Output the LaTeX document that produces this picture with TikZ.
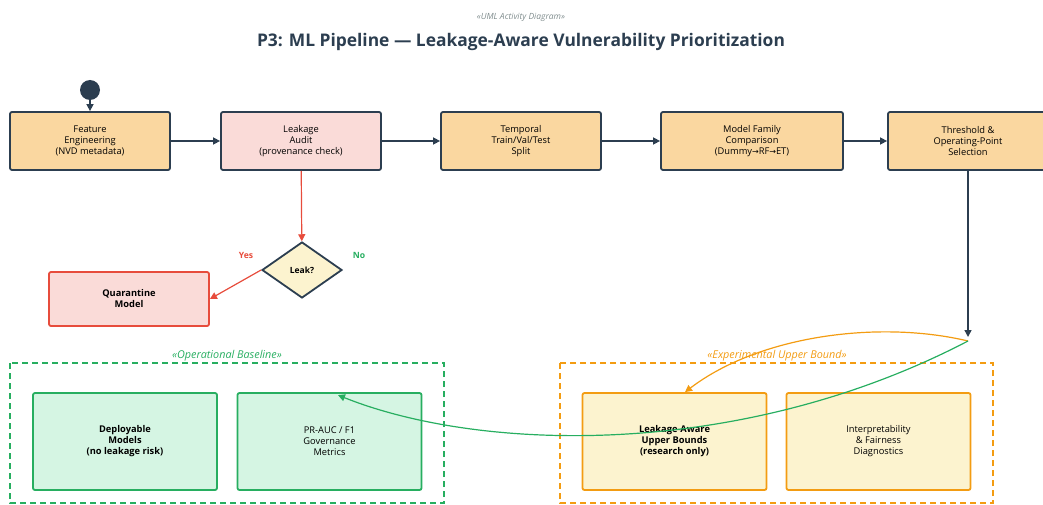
\documentclass[tikz,border=0pt]{standalone}
\usepackage{fontspec}
\setmainfont{Open Sans}
\newfontfamily\symfont{DejaVu Sans}
\usetikzlibrary{arrows.meta,shapes.geometric}

\definecolor{ink}{HTML}{2C3E50}
\definecolor{taskfill}{HTML}{FAD7A0}
\definecolor{warnfill}{HTML}{FADBD8}
\definecolor{warnline}{HTML}{E74C3C}
\definecolor{okline}{HTML}{27AE60}
\definecolor{okfill}{HTML}{D5F5E3}
\definecolor{expline}{HTML}{F39C12}
\definecolor{expfill}{HTML}{FCF3CF}
\definecolor{subgray}{HTML}{7F8C8D}

\newcommand{\rarr}{{\symfont\fontsize{8}{11}\selectfont →}}

\tikzset{
  tip/.style={-{Triangle[length=7pt,width=7pt]}},
  act/.style={draw=ink, fill=taskfill, line width=1.8pt, rounded corners=2pt,
    align=center, font=\fontsize{9.3}{11}\selectfont, inner sep=0pt,
    minimum width=160pt, minimum height=58pt},
  leafbox/.style={line width=1.8pt, rounded corners=2pt, align=center,
    font=\fontsize{9.3}{11}\selectfont, inner sep=0pt,
    minimum width=184pt, minimum height=97pt},
  okbox/.style={leafbox, draw=okline, fill=okfill},
  expbox/.style={leafbox, draw=expline, fill=expfill},
  flow/.style={tip, draw=ink, line width=1.5pt},
  groupframe/.style={line width=1.3pt, dash pattern=on 6pt off 4pt},
  grouplabel/.style={font=\itshape\fontsize{10.8}{12}\selectfont, inner sep=0pt},
}

\begin{document}
\begin{tikzpicture}[x=1pt, y=-1pt]
\useasboundingbox (0,0) rectangle (1043,505);
\clip (0,0) rectangle (1043,505);

% heading
\node[font=\itshape\fontsize{8.5}{10}\selectfont, text=subgray] (stereo) at (521,17) {«UML Activity Diagram»};
\node[font=\bfseries\fontsize{17.4}{20}\selectfont, text=ink] (title) at (521,42)
  {P3: ML Pipeline — Leakage-Aware Vulnerability Prioritization};

% main pipeline
\node[circle, fill=ink, minimum size=20pt, inner sep=0pt] (start) at (90,90) {};
\node[act] (fe) at (90,141) {Feature\\Engineering\\(NVD metadata)};
\node[act, fill=warnfill] (audit) at (301,141) {Leakage\\Audit\\(provenance check)};
\node[act] (split) at (521,141) {Temporal\\Train/Val/Test\\Split};
\node[act, minimum width=182pt] (family) at (752,141) {Model Family\\Comparison\\(Dummy\rarr RF\rarr ET)};
\node[act] (thresh) at (968,141) {Threshold \&\\Operating-Point\\Selection};

\draw[flow] (start) -- (fe);
\draw[flow] (fe) -- (audit);
\draw[flow] (audit) -- (split);
\draw[flow] (split) -- (family);
\draw[flow] (family) -- (thresh);

% leakage decision
\node[diamond, draw=ink, fill=expfill, line width=1.8pt, inner sep=0pt,
      minimum width=80pt, minimum height=56pt, aspect=1.43,
      font=\bfseries\fontsize{8.5}{10}\selectfont] (leak) at (302,270) {Leak?};
\node[draw=warnline, fill=warnfill, line width=1.8pt, rounded corners=2pt,
      minimum width=160pt, minimum height=54pt, inner sep=0pt, align=center,
      font=\bfseries\fontsize{9.3}{11}\selectfont] (quar) at (129,299) {Quarantine\\Model};
\draw[tip, draw=warnline, line width=1.2pt] (audit) -- (leak);
\draw[tip, draw=warnline, line width=1.2pt] (leak.west) -- (quar.east);
\node[font=\bfseries\fontsize{8.6}{10}\selectfont, text=warnline] (yes) at (246,255) {Yes};
\node[font=\bfseries\fontsize{8.6}{10}\selectfont, text=okline] (no) at (359,255) {No};

% operational baseline group
\draw[groupframe, draw=okline] (10,363) rectangle (444,503);
\node[grouplabel, text=okline] (oplabel) at (227,356) {«Operational Baseline»};
\node[okbox, font=\bfseries\fontsize{9.3}{11}\selectfont] (deploy) at (125,441.5)
  {Deployable\\Models\\(no leakage risk)};
\node[okbox] (metrics) at (329.5,441.5) {PR-AUC / F1\\Governance\\Metrics};

% experimental upper bound group
\draw[groupframe, draw=expline] (560,363) rectangle (993,503);
\node[grouplabel, text=expline] (explabel) at (777,356) {«Experimental Upper Bound»};
\node[expbox, font=\bfseries\fontsize{9.3}{11}\selectfont] (upper) at (674.5,441.5)
  {Leakage-Aware\\Upper Bounds\\(research only)};
\node[expbox] (diag) at (878.5,441.5) {Interpretability\\\& Fairness\\Diagnostics};

% branch after operating-point selection
\coordinate (join) at (968,337);
\coordinate (fork) at (968,341);
\draw[flow] (thresh) -- (join);
\draw[tip, draw=expline, line width=1.2pt] (fork)
  .. controls (880,320) and (760,335) .. ([xshift=10.5pt]upper.north);
\draw[tip, draw=okline, line width=1.2pt] (fork)
  .. controls (740,460) and (480,452) .. ([xshift=8.5pt,yshift=-3pt]metrics.north);
\end{tikzpicture}
\end{document}
